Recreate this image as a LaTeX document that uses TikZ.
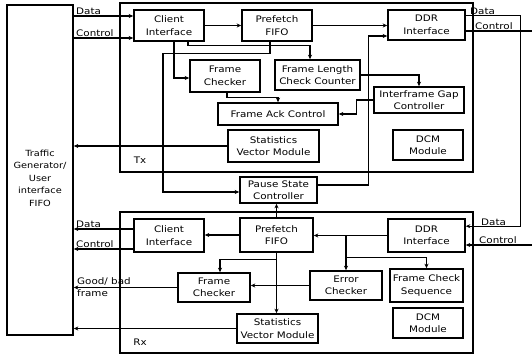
\documentclass[tikz,border=0pt]{standalone}
\usepackage{fontspec}
\setmainfont{DejaVu Sans}[FakeStretch=1.15]
\usetikzlibrary{arrows.meta}
\tikzset{%
  bloque/.style ={rectangle, draw, line width=1.6pt, align=center,
                  inner sep=1pt, font=\fontsize{9}{12.5}\selectfont},
  sz/.style 2 args={minimum width=#1pt, minimum height=#2pt},
  marco/.style  ={rectangle, draw, line width=1.2pt, inner sep=0pt},
  flarr/.style  ={-{Stealth[length=4.5pt,width=4pt]}, line width=1.1pt},
  ln/.style     ={-, line width=1.1pt},
  etq/.style    ={inner sep=1pt, font=\fontsize{9}{11}\selectfont}
}
\begin{document}
\begin{tikzpicture}[x=1pt,y=-1pt]
  \useasboundingbox (0,0) rectangle (532,355);
  % marcos Tx / Rx
  \node[marco, minimum width=353pt, minimum height=169pt] (tx) at (296.5,87.5) {};
  \node[marco, minimum width=353pt, minimum height=141pt] (rx) at (296.5,282.5) {};
  \node[etq] (txl) at (140,160) {Tx};
  \node[etq] (rxl) at (140,342) {Rx};
  \node[bloque, sz={66}{330}] (tg) at (40,170) {};
  \node[etq, align=center, font=\fontsize{8.5}{12.5}\selectfont] (tgl) at (40,178)
    {Traffic\\Generator/\\User\\interface\\FIFO};
  % Tx
  \node[bloque, sz={70}{31}] (ciT) at (169,25.5) {Client\\Interface};
  \node[bloque, sz={70}{31}] (pfT) at (277,25.5) {Prefetch\\FIFO};
  \node[bloque, sz={77}{30}] (ddrT) at (426.5,25) {DDR\\Interface};
  \node[bloque, sz={70}{32}] (fcT) at (225,76) {Frame\\Checker};
  \node[bloque, sz={85}{30}] (flcc) at (317.5,75) {Frame Length\\Check Counter};
  \node[bloque, sz={90}{26}] (igc) at (419,100) {Interframe Gap\\Controller};
  \node[bloque, sz={120}{22}] (fac) at (278,114) {Frame Ack Control};
  \node[bloque, sz={91}{32}] (svmT) at (273.5,146) {Statistics\\Vector Module};
  \node[bloque, sz={70}{30}] (dcmT) at (428,145) {DCM\\Module};
  \node[bloque, sz={77}{26}] (psc) at (278.5,190) {Pause State\\Controller};
  % Rx
  \node[bloque, sz={70}{33}] (ciB) at (169,235.5) {Client\\Interface};
  \node[bloque, sz={73}{34}] (pfB) at (276.5,235) {Prefetch\\FIFO};
  \node[bloque, sz={77}{33}] (ddrB) at (426.5,235.5) {DDR\\Interface};
  \node[bloque, sz={72}{29}] (fcB) at (214,287.5) {Frame\\Checker};
  \node[bloque, sz={72}{29}] (ec) at (346,285.5) {Error\\Checker};
  \node[bloque, sz={73}{33}] (fcs) at (426.5,285.5) {Frame Check\\Sequence};
  \node[bloque, sz={81}{29}] (svmB) at (277.5,328.5) {Statistics\\Vector Module};
  \node[bloque, sz={70}{30}] (dcmB) at (428,323) {DCM\\Module};
  % puntos de conexion
  \coordinate (dinT) at ([yshift=9.5pt]ciT.west);
  \coordinate (cinT) at ([yshift=-12.5pt]ciT.west);
  \coordinate (lpT) at ([yshift=-6pt]ddrT.north east);
  \coordinate (lpB) at ([yshift=-8pt]ddrB.north east);
  \coordinate (ctT) at ([yshift=-6pt]ddrT.east);
  \coordinate (ctTend) at (532,31);
  \coordinate (ctBin) at (532,245);
  \coordinate (doutB) at ([yshift=6.5pt]ciB.west);
  \coordinate (coutB) at ([yshift=-13.5pt]ciB.west);
  \coordinate (j1) at (ec.north |- ddrB.west);
  % conexiones Tx
  \draw[flarr] (tg.east |- dinT) -- (dinT);
  \draw[flarr] (tg.east |- cinT) -- (cinT);
  \draw[flarr] (ciT.east) -- (pfT.west);
  \draw[flarr] (pfT.east) -- (ddrT.west |- pfT.east);
  \draw[flarr] (lpT) -- ++(55,0) |- (lpB);
  \draw[ln] (ctT) -- (ctTend);
  \draw[flarr] ([xshift=5pt]ciT.south) |- ([yshift=-2pt]fcT.west);
  \draw[flarr] ([xshift=19pt]ciT.south) -- ++(0,4) -| ([xshift=-7.5pt]flcc.north);
  \draw[flarr] ([xshift=-7pt]pfT.south) -- ++(0,12) -- ++(-107,0) |- ([yshift=-2pt]psc.west);
  \draw[flarr] ([xshift=2pt]fcT.south) -- ++(0,5) -| (fac.north);
  \draw[flarr] (flcc.east) -| (igc.north);
  \draw[flarr] (igc.west) -- ++(-17,0) |- (fac.east);
  \draw[flarr] ([yshift=5pt]psc.east) -- ++(51,0) |- ([yshift=-11pt]ddrT.west);
  \draw[flarr] (svmT.west) -- (tg.east |- svmT.west);
  \draw[flarr] (pfB.north) -- (pfB.north |- psc.south);
  % conexiones Rx
  \draw[flarr] (ctBin) -- (ddrB.east |- ctBin);
  \draw[flarr] (doutB) -- (tg.east |- doutB);
  \draw[flarr] (coutB) -- (tg.east |- coutB);
  \draw[flarr] (pfB.west) -- (ciB.east |- pfB.west);
  \draw[flarr] (ddrB.west) -- (pfB.east |- ddrB.west);
  \draw[flarr] (j1) -- (ec.north);
  \draw[flarr] (j1) -- ++(0,22) -| (fcs.north);
  \draw[flarr] (ec.west) -- (ec.west -| fcB.east);
  \draw[flarr] (fcB.west) -- (tg.east |- fcB.west);
  \draw[flarr] (pfB.south) -- (pfB.south |- svmB.north);
  \draw[flarr] (pfB.south) -- ++(0,7) -| ([xshift=6pt]fcB.north);
  \draw[flarr] (svmB.west) -- (tg.east |- svmB.west);
  % etiquetas
  \node[etq, anchor=south west] (ldT) at (75,15.5) {Data};
  \node[etq, anchor=south west] (lcT) at (75,37.5) {Control};
  \node[etq, anchor=south west] (rdT) at (469,15.5) {Data};
  \node[etq, anchor=south west] (rcT) at (474,30.5) {Control};
  \node[etq, anchor=south west] (ldB) at (75,228.5) {Data};
  \node[etq, anchor=south west] (lcB) at (75,248.5) {Control};
  \node[etq, anchor=south west] (gbf) at (76,287) {Good/ bad};
  \node[etq, anchor=north west] (gbf2) at (76,288) {frame};
  \node[etq, anchor=south west] (rdB) at (480,226.5) {Data};
  \node[etq, anchor=south west] (rcB) at (478,244.5) {Control};
\end{tikzpicture}
\end{document}
